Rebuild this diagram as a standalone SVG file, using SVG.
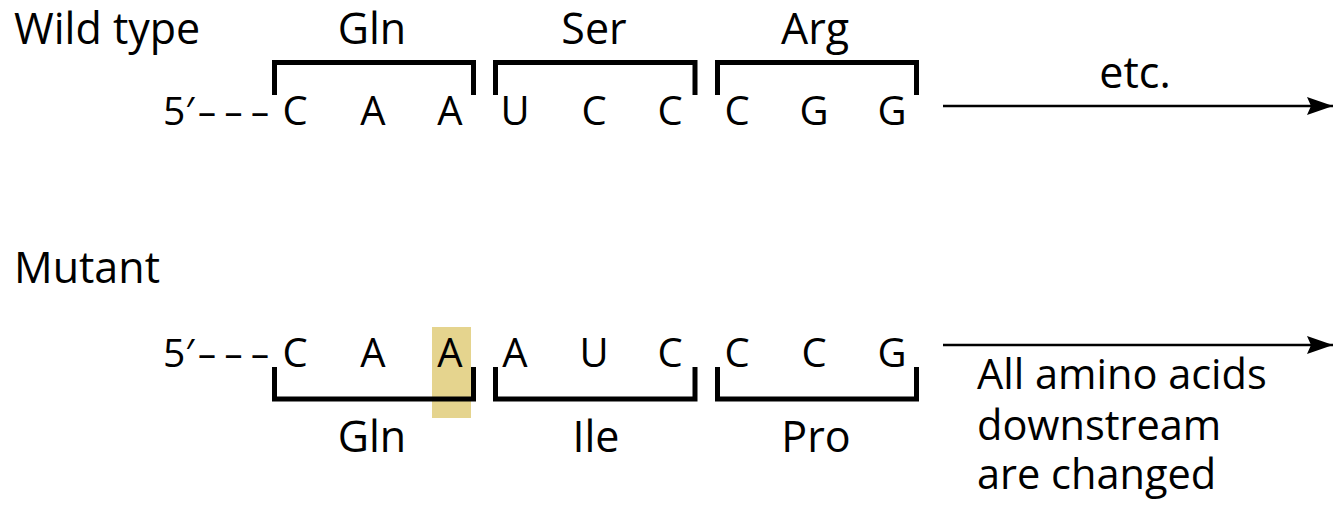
<svg xmlns="http://www.w3.org/2000/svg" width="1334" height="509" viewBox="0 0 1334 509">
  <style>
    text { font-family: "Open Sans", "Noto Sans", "Liberation Sans", sans-serif; fill: #000; }
    .label { font-size: 43px; }
    .note { font-size: 41.5px; }
    .base { font-size: 40px; text-anchor: middle; }
    .aa { font-size: 43px; text-anchor: middle; }
    .bracket { fill: none; stroke: #000; stroke-width: 5; stroke-linejoin: miter; stroke-linecap: butt; }
    .arrow { fill: none; stroke: #000; stroke-width: 2.5; }
  </style>
  <defs>
    <marker id="head" markerUnits="userSpaceOnUse" markerWidth="28" markerHeight="20" refX="26" refY="10" orient="auto">
      <path d="M0,1 L26,10 L0,19 L4,10 Z" fill="#000"/>
    </marker>
  </defs>
  <rect width="1334" height="509" fill="#fff"/>

  <!-- Wild-type strand -->
  <g id="wildtype">
    <text class="label" x="14" y="44">Wild type</text>
    <text x="163" y="125" style="font-size:39px">5′</text>
    <text x="198" y="125" style="font-size:36px" textLength="71" lengthAdjust="spacing">– – –</text>
    <text class="base" x="295" y="125">C</text>
    <text class="base" x="373" y="125">A</text>
    <text class="base" x="450" y="125">A</text>
    <text class="base" x="515" y="125">U</text>
    <text class="base" x="594" y="125">C</text>
    <text class="base" x="670" y="125">C</text>
    <text class="base" x="737" y="125">C</text>
    <text class="base" x="814" y="125">G</text>
    <text class="base" x="892" y="125">G</text>
  </g>
  <g id="wt-codon1">
    <path class="bracket" d="M274.5,95 V62.5 H473.5 V95"/>
    <text class="aa" x="372" y="44">Gln</text>
  </g>
  <g id="wt-codon2">
    <path class="bracket" d="M495.5,95 V62.5 H695 V95"/>
    <text class="aa" x="594" y="44">Ser</text>
  </g>
  <g id="wt-codon3">
    <path class="bracket" d="M717.5,95 V62.5 H916.5 V95"/>
    <text class="aa" x="815" y="44">Arg</text>
  </g>
  <g id="wt-etc">
    <text class="aa" x="1135" y="88">etc.</text>
  </g>

  <!-- Mutant strand with inserted base -->
  <g id="mutant">
    <text class="label" x="14" y="283">Mutant</text>
    <rect x="432" y="327" width="39" height="91" fill="#e5d48e"/>
    <text x="163" y="367" style="font-size:39px">5′</text>
    <text x="198" y="367" style="font-size:36px" textLength="71" lengthAdjust="spacing">– – –</text>
    <text class="base" x="295" y="367">C</text>
    <text class="base" x="373" y="367">A</text>
    <text class="base" x="450" y="367">A</text>
    <text class="base" x="515" y="367">A</text>
    <text class="base" x="594" y="367">U</text>
    <text class="base" x="670" y="367">C</text>
    <text class="base" x="737" y="367">C</text>
    <text class="base" x="814" y="367">C</text>
    <text class="base" x="892" y="367">G</text>
  </g>
  <g id="mut-codon1">
    <path class="bracket" d="M274.5,367 V399 H473.5 V367"/>
    <text class="aa" x="372" y="452">Gln</text>
  </g>
  <g id="mut-codon2">
    <path class="bracket" d="M495.5,367 V399 H695 V367"/>
    <text class="aa" x="596" y="452">Ile</text>
  </g>
  <g id="mut-codon3">
    <path class="bracket" d="M717.5,367 V399 H916.5 V367"/>
    <text class="aa" x="816" y="452">Pro</text>
  </g>
  <g id="mut-note">
    <text class="note" x="977" y="389">All amino acids</text>
    <text class="note" x="977" y="440">downstream</text>
    <text class="note" x="977" y="489">are changed</text>
  </g>

  <!-- Reading-direction arrows -->
  <g id="connectors">
    <line class="arrow" x1="943" y1="106" x2="1333" y2="106" marker-end="url(#head)"/>
    <line class="arrow" x1="943" y1="345" x2="1333" y2="345" marker-end="url(#head)"/>
  </g>
</svg>
